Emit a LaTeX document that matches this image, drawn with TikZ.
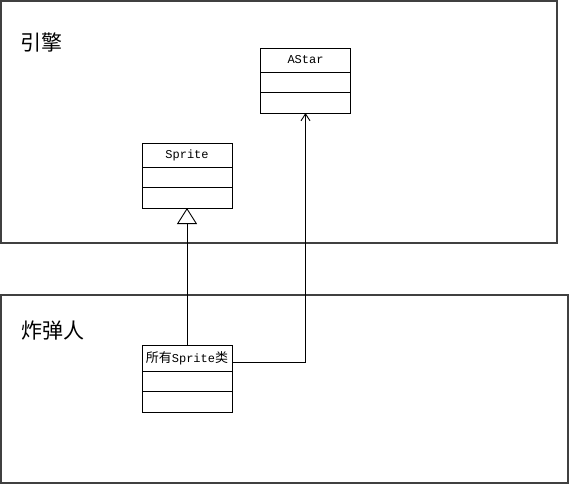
\documentclass[tikz,border=0pt]{standalone}
\usepackage{fontspec}
\setmonofont{Liberation Mono}
\newfontfamily\cjk{Noto Sans CJK SC}
\usepackage{tikz}
\usetikzlibrary{positioning,arrows.meta}

\tikzset{
  frame/.style={rectangle,draw=black!75,line width=1.1pt,inner sep=0pt},
  classhead/.style={rectangle,draw,line width=0.9pt,inner sep=0pt,outer sep=0pt,minimum width=90pt,minimum height=24pt,font=\fontsize{12}{14}\selectfont\ttfamily},
  classpart/.style={rectangle,draw,line width=0.9pt,inner sep=0pt,outer sep=0pt,minimum width=90pt,minimum height=20.5pt},
  title/.style={font=\fontsize{21}{23}\selectfont\cjk}
}

\begin{document}
\begin{tikzpicture}[x=1pt,y=-1pt]
\useasboundingbox (0,0) rectangle (569,484);
% packages
\node (engine) at (279,122) [frame,minimum width=556pt,minimum height=242pt] {};
\node (bomber) at (284.5,389) [frame,minimum width=567pt,minimum height=188pt] {};
\node (engtitle) at (41,42) [title] {引擎};
\node (bombtitle) at (53,331) [title] {炸弹人};
% classes
\node (astar) at (305.5,60) [classhead] {AStar};
\node (astar1) [classpart,below=0pt of astar] {};
\node (astar2) [classpart,below=0pt of astar1] {};
\node (sprite) at (187,155) [classhead] {Sprite};
\node (sprite1) [classpart,below=0pt of sprite] {};
\node (sprite2) [classpart,below=0pt of sprite1] {};
\node (all) at (187,358) [classhead,minimum height=26pt] {{\cjk\fontsize{13}{15}\selectfont 所有}Sprite{\cjk\fontsize{13}{15}\selectfont 类}};
\node (all1) [classpart,below=0pt of all] {};
\node (all2) [classpart,below=0pt of all1] {};
% relations
\draw[line width=0.9pt,-{Triangle[open,length=16pt,width=20pt]}] (all.north) -- (sprite2.south);
\coordinate (allout) at ([yshift=-4pt]all.east);
\draw[line width=0.9pt,-{Straight Barb[length=7pt,width=9pt]}] (allout) -| (astar2.south);
\end{tikzpicture}
\end{document}
